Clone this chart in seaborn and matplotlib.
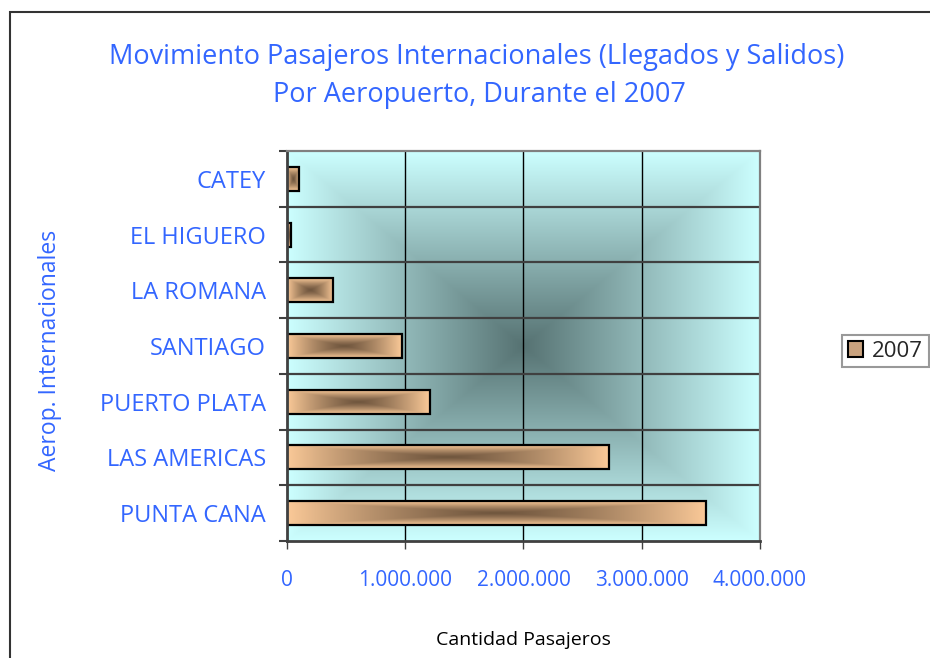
import numpy as np
import pandas as pd
import matplotlib
import matplotlib.pyplot as plt
import seaborn as sns
from matplotlib.patches import Rectangle

aeropuertos = ["CATEY", "EL HIGUERO", "LA ROMANA", "SANTIAGO",
               "PUERTO PLATA", "LAS AMERICAS", "PUNTA CANA"]
pasajeros_2007 = [105000, 37000, 393000, 970000, 1208000, 2719000, 3547000]
x_ticks = [0, 1000000, 2000000, 3000000, 4000000]

df = pd.DataFrame({"Aeropuerto": aeropuertos, "Pasajeros": pasajeros_2007})

sns.set_style("white")
plt.rcParams["font.family"] = ["Open Sans", "DejaVu Sans"]

azul = "#3366ff"
peach = np.array([250, 201, 152]) / 255
brown = np.array([112, 86, 62]) / 255
cyan = np.array([204, 255, 255]) / 255
slate = np.array([86, 114, 114]) / 255


def center_gradient(c_out, c_in, nx=300, ny=200, gamma=1.0):
    u = np.abs(np.linspace(-1, 1, nx))
    v = np.abs(np.linspace(-1, 1, ny))
    t = np.maximum(u[None, :], v[:, None]) ** gamma
    return c_in[None, None, :] + (c_out - c_in)[None, None, :] * t[:, :, None]


fig = plt.figure(figsize=(9.3, 6.58), dpi=100)
ax = fig.add_axes([0.3086, 0.1778, 0.5086, 0.5927])

sns.barplot(data=df, x="Pasajeros", y="Aeropuerto", orient="h", width=0.43,
            color=tuple(peach), edgecolor="black", linewidth=1.6,
            label="2007", ax=ax)

ax.set_xlim(0, 4000000)
ax.set_ylim(6.5, -0.5)

# fondo degradado desde el centro
ax.imshow(center_gradient(cyan, slate, 400, 300), extent=[0, 4000000, 6.5, -0.5],
          aspect="auto", zorder=0, interpolation="bilinear")

# degradado en cada barra
for p in ax.patches:
    x0, y0 = p.get_x(), p.get_y()
    w, h = p.get_width(), p.get_height()
    im = ax.imshow(center_gradient(peach, brown, 200, 40, 1.3),
                   extent=[x0, x0 + w, y0 + h, y0], aspect="auto",
                   zorder=2, interpolation="bilinear")
    im.set_clip_path(p)
    p.set_facecolor("none")
    p.set_zorder(3)

ax.set_xlim(0, 4000000)
ax.set_ylim(6.5, -0.5)

# lineas de cuadricula
for xv in x_ticks[1:-1]:
    ax.axvline(xv, color="black", lw=1, zorder=1)
for k in range(1, len(aeropuertos)):
    ax.axhline(k - 0.5, color="#404040", lw=1.6, zorder=1)

ax.set_xticks(x_ticks)
ax.set_xticklabels([f"{v:,.0f}".replace(",", ".") for v in x_ticks],
                   color=azul, fontsize=15)
ax.set_yticks(range(len(aeropuertos)))
ax.set_yticklabels(aeropuertos, color=azul, fontsize=17)
ax.set_yticks(np.arange(-0.5, len(aeropuertos), 1), minor=True)
ax.tick_params(axis="y", which="major", length=0, pad=15)
ax.tick_params(axis="y", which="minor", length=6, width=1.5, color="#404040",
               direction="out", left=True)
ax.tick_params(axis="x", which="major", length=6, width=1, color="#404040",
               direction="out", bottom=True, pad=15)
ax.set_xlabel("")
ax.set_ylabel("")

for s in ["left", "bottom"]:
    ax.spines[s].set_color("#404040")
    ax.spines[s].set_linewidth(2)
for s in ["top", "right"]:
    ax.spines[s].set_color("#808080")
    ax.spines[s].set_linewidth(1.6)
for s in ax.spines.values():
    s.set_zorder(4)

fig.text(0.513, 0.9134, "Movimiento Pasajeros Internacionales (Llegados y Salidos)",
         ha="center", va="center", color=azul, fontsize=19.5)
fig.text(0.516, 0.8557, "Por Aeropuerto, Durante el 2007",
         ha="center", va="center", color=azul, fontsize=19.5)
fig.text(0.054, 0.468, "Aerop. Internacionales", rotation=90, ha="center",
         va="center", color=azul, fontsize=16.5)
fig.text(0.5626, 0.027, "Cantidad Pasajeros", ha="center", va="center",
         color="black", fontsize=14)

# marco del grafico
fig.patches.append(Rectangle((10 / 930, -0.1), 1.2, 1 - 12 / 658 + 0.1,
                             transform=fig.transFigure, fill=False,
                             edgecolor="#333333", lw=1.5))

leg = ax.legend(loc="upper left", bbox_to_anchor=(842 / 930, 1 - 335 / 658),
                bbox_transform=fig.transFigure, frameon=True, fancybox=False,
                fontsize=16, handlelength=0.7, handleheight=0.7,
                handletextpad=0.4, borderpad=0.25, borderaxespad=0)
leg.get_frame().set_edgecolor("#808080")
leg.get_frame().set_linewidth(1.5)
for hnd in leg.legend_handles:
    hnd.set_facecolor("#c9a27e")
    hnd.set_edgecolor("black")
    hnd.set_linewidth(1.5)

fig.savefig("out.png", dpi=100)
